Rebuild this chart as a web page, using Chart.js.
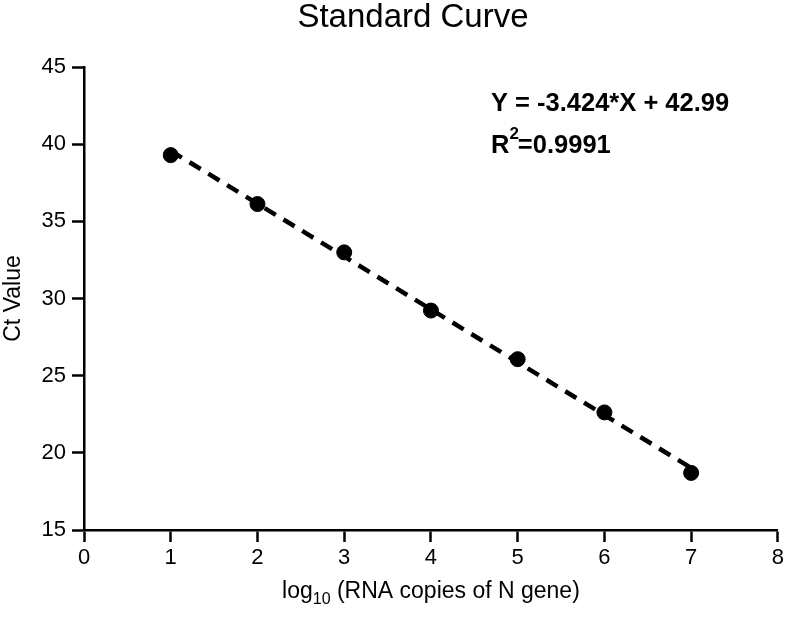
<!DOCTYPE html>
<html>
<head>
<meta charset="utf-8">
<script src="https://cdn.jsdelivr.net/npm/chart.js@4.4.0/dist/chart.umd.min.js"></script>
<style>
    html, body { margin: 0; padding: 0; background: #fff; }
    #wrap { width: 787px; height: 620px; }
</style>
</head>
<body>
<div id="wrap"><canvas id="curveChart" width="787" height="620"></canvas></div>
<script>
// measured standard points (x = log10 copies, y = Ct)
const logCopies = [1, 2, 3, 4, 5, 6, 7];
const ctValues = [39.29, 36.12, 32.99, 29.22, 26.07, 22.62, 18.70];

// ends of the dashed fit line
const fitX = [1, 7];
const fitY = [39.57, 19.02];

const xTicks = [0, 1, 2, 3, 4, 5, 6, 7, 8];
const yTicks = [15, 20, 25, 30, 35, 40, 45];

const titleText = 'Standard Curve';
const equationText = 'Y = -3.424*X + 42.99';
const r2Text = '=0.9991';

const FONT = "'Liberation Sans', Arial, Helvetica, sans-serif";

const annotations = {
    id: 'annotations',
    afterDraw(chart) {
        const ctx = chart.ctx;
        ctx.save();
        ctx.fillStyle = '#000';
        ctx.textBaseline = 'alphabetic';

        ctx.font = '33px ' + FONT;
        ctx.textAlign = 'center';
        ctx.fillText(titleText, 413, 27);

        ctx.textAlign = 'left';
        ctx.font = 'bold 25.5px ' + FONT;
        ctx.fillText(equationText, 491, 111);

        ctx.fillText('R', 491, 153);
        const rw = ctx.measureText('R').width;
        ctx.font = 'bold 17px ' + FONT;
        ctx.fillText('2', 491 + rw, 139);
        const sw = ctx.measureText('2').width;
        ctx.font = 'bold 25.5px ' + FONT;
        ctx.fillText(r2Text, 491 + rw + sw - 1, 153);

        // x axis title with subscript
        const y = 598;
        const partA = 'log';
        const partC = ' (RNA copies of N gene)';
        ctx.font = '16px ' + FONT;
        const subW = ctx.measureText('10').width;
        ctx.font = '23px ' + FONT;
        const total = ctx.measureText(partA).width + subW + ctx.measureText(partC).width;
        let x = (chart.chartArea.left + chart.chartArea.right) / 2 - total / 2;
        ctx.fillText(partA, x, y);
        x += ctx.measureText(partA).width;
        ctx.font = '16px ' + FONT;
        ctx.fillText('10', x, y + 6);
        x += subW;
        ctx.font = '23px ' + FONT;
        ctx.fillText(partC, x, y);
        ctx.restore();
    }
};

new Chart(document.getElementById('curveChart'), {
    type: 'scatter',
    data: {
        datasets: [
            {
                label: 'Fit',
                type: 'line',
                data: fitX.map((x, i) => ({ x: x, y: fitY[i] })),
                borderColor: '#000',
                borderWidth: 4.5,
                borderDash: [13, 9],
                pointRadius: 0,
                fill: false
            },
            {
                label: 'Standards',
                data: logCopies.map((x, i) => ({ x: x, y: ctValues[i] })),
                backgroundColor: '#000',
                borderColor: '#000',
                pointRadius: 7.5,
                pointHoverRadius: 7.5
            }
        ]
    },
    options: {
        responsive: false,
        animation: false,
        layout: {
            padding: { top: 67, right: 8, bottom: 0, left: 0 }
        },
        scales: {
            x: {
                type: 'linear',
                min: 0,
                max: 8,
                afterBuildTicks: axis => { axis.ticks = xTicks.map(v => ({ value: v })); },
                afterFit: axis => { axis.height = 90; },
                grid: {
                    drawOnChartArea: false,
                    drawTicks: true,
                    tickLength: 12,
                    tickWidth: 2.5,
                    tickColor: '#000'
                },
                border: { display: true, color: '#000', width: 2.5 },
                ticks: {
                    color: '#000',
                    padding: 3,
                    maxRotation: 0,
                    font: { size: 22, family: FONT }
                }
            },
            y: {
                type: 'linear',
                min: 15,
                max: 45,
                afterBuildTicks: axis => { axis.ticks = yTicks.map(v => ({ value: v })); },
                afterFit: axis => { axis.width = 84; },
                grid: {
                    drawOnChartArea: false,
                    drawTicks: true,
                    tickLength: 12,
                    tickWidth: 2.5,
                    tickColor: '#000'
                },
                border: { display: true, color: '#000', width: 2.5 },
                title: {
                    display: true,
                    text: 'Ct Value',
                    color: '#000',
                    padding: { top: 0, bottom: 2 },
                    font: { size: 23, family: FONT }
                },
                ticks: {
                    color: '#000',
                    padding: 6,
                    font: { size: 22, family: FONT }
                }
            }
        },
        plugins: {
            legend: { display: false },
            title: { display: false },
            tooltip: { enabled: false }
        }
    },
    plugins: [annotations]
});
</script>
</body>
</html>
